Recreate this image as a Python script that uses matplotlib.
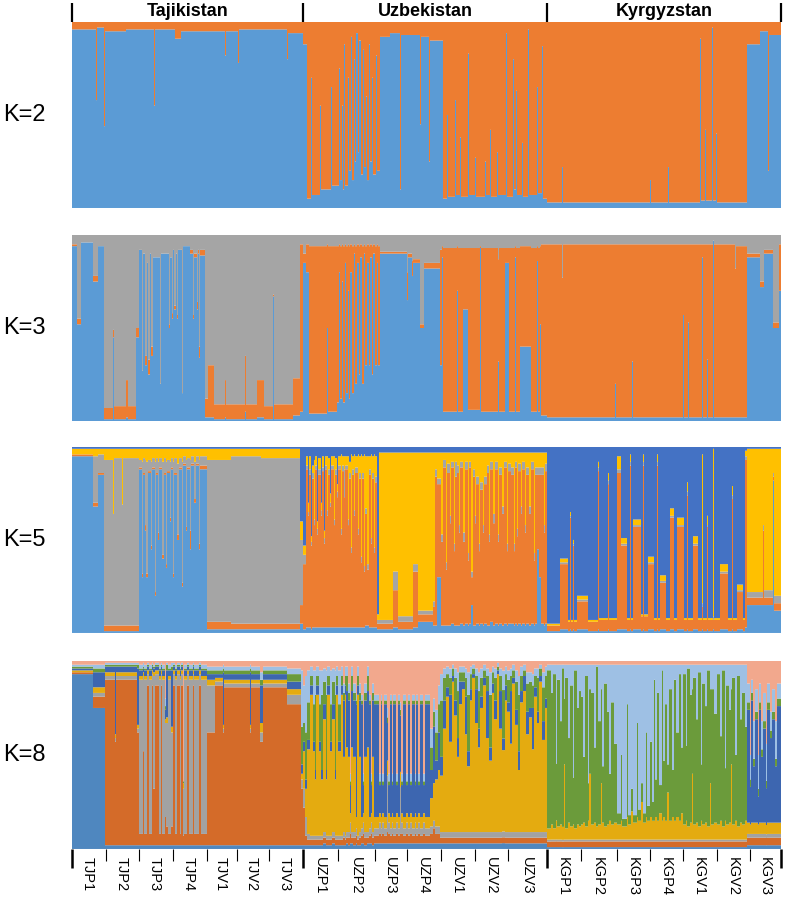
import numpy as np
import matplotlib.pyplot as plt
import matplotlib.transforms as mtransforms

plt.rcParams['font.family'] = ['Liberation Sans', 'DejaVu Sans']

countries = ["Tajikistan", "Uzbekistan", "Kyrgyzstan"]
country_sizes = [231, 244, 234]
pops = ["TJP1", "TJP2", "TJP3", "TJP4", "TJV1", "TJV2", "TJV3",
        "UZP1", "UZP2", "UZP3", "UZP4", "UZV1", "UZV2", "UZV3",
        "KGP1", "KGP2", "KGP3", "KGP4", "KGV1", "KGV2", "KGV3"]
pop_sizes = [34, 33, 34, 34, 30, 32, 34,
             35, 37, 32, 34, 34, 33, 39,
             34, 36, 33, 33, 34, 33, 31]

# ancestry rows: (number of individuals, q for each cluster, bottom -> top)
k2_colors = ["#5B9BD5", "#ED7D31"]
k2_rows = [
    # Tajikistan
    (24, .96, .04), (1, .58, .42), (7, .97, .03), (1, .44, .56), (21, .95, .05),
    (28, .96, .04), (1, .55, .45), (20, .96, .04), (6, .91, .09), (44, .95, .05),
    (1, .82, .18), (12, .95, .05), (1, .78, .22), (48, .96, .04), (1, .80, .20),
    (15, .94, .06),
    # Uzbekistan
    (4, .88, .12), (4, .05, .95), (1, .70, .30), (8, .07, .93), (1, .55, .45),
    (10, .10, .90), (1, .65, .35), (5, .12, .88),
    (2, .12, .88), (1, .75, .25), (2, .15, .85), (1, .55, .45), (1, .10, .90),
    (1, .88, .12), (3, .12, .88), (1, .70, .30), (2, .20, .80), (1, .92, .08),
    (2, .15, .85), (1, .80, .20), (1, .25, .75), (2, .94, .06), (1, .30, .70),
    (2, .90, .10), (2, .18, .82), (1, .85, .15), (2, .22, .78), (1, .60, .40),
    (2, .15, .85), (1, .88, .12), (2, .25, .75), (1, .70, .30), (3, .18, .82),
    (1, .82, .18), (3, .20, .80),
    (10, .92, .08), (10, .94, .06), (1, .10, .90), (19, .93, .07), (1, .45, .55),
    (8, .92, .08), (1, .25, .75), (13, .90, .10),
    (4, .05, .95), (1, .50, .50), (7, .06, .94), (1, .58, .42), (4, .07, .93),
    (1, .38, .62), (7, .06, .94), (1, .83, .17), (6, .07, .93), (1, .27, .73),
    (9, .06, .94), (1, .25, .75), (4, .07, .93), (1, .42, .58), (6, .06, .94),
    (1, .30, .70), (8, .07, .93), (1, .94, .06), (6, .06, .94), (1, .80, .20),
    (2, .10, .90), (1, .63, .37), (5, .07, .93), (1, .35, .65), (5, .06, .94),
    (1, .96, .04), (8, .07, .93), (1, .65, .35), (4, .08, .92), (1, .87, .13),
    (4, .05, .95),
    # Kyrgyzstan
    (15, .03, .97), (1, .22, .78), (87, .03, .97), (1, .15, .85), (17, .03, .97),
    (1, .22, .78), (31, .03, .97), (1, .91, .09), (4, .04, .96), (1, .42, .58),
    (6, .04, .96), (1, .97, .03), (3, .04, .96), (1, .40, .60), (30, .03, .97),
    (13, .88, .12), (8, .95, .05), (1, .20, .80), (12, .93, .07),
]

k3_colors = ["#5B9BD5", "#ED7D31", "#A5A5A5"]
k3_rows = [
    # Tajikistan
    (5, .94, .01, .05), (4, .52, .03, .45), (12, .96, .00, .04), (5, .75, .03, .22),
    (6, .94, .00, .06),
    (9, .01, .06, .93), (1, .45, .04, .51), (12, .01, .07, .92), (2, .02, .20, .78),
    (8, .01, .07, .92), (3, .45, .05, .50),
    (3, .92, .00, .08), (1, .27, .00, .73), (2, .90, .00, .10),
    (2, .30, .05, .65), (1, .85, .00, .15), (2, .25, .08, .67), (1, .90, .00, .10),
    (2, .35, .05, .60),
    (7, .88, .00, .12), (1, .20, .00, .80), (6, .90, .00, .10),
    (2, .90, .00, .10), (1, .50, .02, .48), (2, .88, .00, .12), (1, .55, .03, .42),
    (1, .92, .00, .08), (2, .60, .02, .38), (1, .90, .00, .10), (1, .55, .02, .43),
    (4, .92, .00, .08), (1, .15, .00, .85), (7, .94, .00, .06),
    (3, .90, .02, .08), (1, .55, .02, .43), (3, .88, .02, .10), (1, .60, .04, .36),
    (1, .90, .02, .08),
    (1, .34, .06, .60), (5, .89, .03, .08),
    (3, .02, .10, .88), (6, .02, .28, .70), (11, .01, .08, .91), (1, .02, .20, .78),
    (19, .01, .08, .91), (1, .05, .30, .65), (11, .01, .08, .91), (7, .02, .20, .78),
    (9, .01, .07, .92), (1, .67, .01, .32), (19, .01, .08, .91), (7, .03, .20, .77),
    (3, .05, .90, .05),
    # Uzbekistan
    (3, .85, .05, .10), (3, .80, .15, .05), (18, .04, .90, .06), (1, .50, .45, .05),
    (9, .05, .89, .06),
    (2, .10, .84, .06), (1, .80, .15, .05), (2, .12, .82, .06), (1, .75, .20, .05),
    (2, .10, .84, .06), (1, .85, .10, .05), (2, .15, .79, .06), (1, .70, .25, .05),
    (1, .12, .82, .06), (2, .80, .15, .05), (2, .15, .79, .06), (1, .90, .05, .05),
    (2, .20, .74, .06), (2, .85, .10, .05), (1, .25, .69, .06), (2, .88, .07, .05),
    (2, .20, .74, .06), (1, .90, .05, .05), (2, .30, .64, .06), (2, .85, .10, .05),
    (1, .30, .64, .06), (2, .88, .07, .05), (1, .25, .69, .06), (2, .90, .05, .05),
    (2, .30, .64, .06), (1, .85, .10, .05), (2, .30, .64, .06),
    (27, .90, .01, .09), (1, .65, .15, .20), (4, .88, .02, .10),
    (1, .78, .08, .14), (7, .85, .02, .13), (4, .50, .02, .48), (16, .82, .03, .15),
    (2, .30, .62, .08), (1, .88, .06, .06), (14, .05, .88, .07), (1, .70, .24, .06),
    (5, .05, .88, .07), (5, .60, .33, .07), (12, .06, .87, .07), (1, .93, .01, .06),
    (17, .05, .88, .07), (1, .32, .55, .13), (6, .05, .88, .07), (4, .85, .08, .07),
    (6, .05, .88, .07), (1, .88, .06, .06), (4, .05, .88, .07), (11, .40, .54, .06),
    (6, .05, .88, .07), (1, .86, .08, .06), (2, .05, .88, .07), (1, .52, .42, .06),
    (6, .03, .92, .05),
    # Kyrgyzstan
    (15, .02, .93, .05), (1, .02, .75, .23), (52, .02, .93, .05), (1, .20, .75, .05),
    (16, .02, .93, .05), (1, .32, .63, .05), (50, .02, .93, .05), (1, .57, .38, .05),
    (4, .02, .93, .05), (1, .53, .42, .05), (13, .02, .93, .05), (1, .88, .07, .05),
    (4, .02, .93, .05), (1, .33, .62, .05), (5, .02, .93, .05), (1, .97, .00, .03),
    (21, .02, .93, .05), (1, .02, .80, .18), (11, .02, .92, .06), (13, .88, .02, .10),
    (4, .72, .03, .25), (9, .90, .02, .08), (6, .50, .03, .47), (2, .70, .25, .05),
]

k5_colors = ["#5B9BD5", "#ED7D31", "#A5A5A5", "#FFC000", "#4472C4"]
k5_rows = [
    # Tajikistan
    (21, .95, .01, .00, .03, .01), (5, .68, .02, .25, .04, .01), (6, .85, .01, .10, .03, .01),
    (9, .01, .03, .89, .06, .01), (1, .01, .03, .60, .35, .01), (8, .01, .03, .90, .05, .01),
    (1, .01, .03, .65, .30, .01), (16, .01, .03, .90, .05, .01),
    (3, .88, .01, .04, .06, .01), (1, .30, .02, .60, .07, .01), (2, .85, .01, .08, .05, .01),
    (1, .55, .03, .35, .06, .01), (2, .30, .02, .60, .07, .01), (3, .86, .01, .06, .06, .01),
    (1, .45, .02, .45, .07, .01), (3, .88, .01, .05, .05, .01), (1, .20, .02, .70, .07, .01),
    (2, .85, .01, .08, .05, .01), (1, .50, .04, .38, .07, .01), (3, .88, .01, .05, .05, .01),
    (2, .40, .02, .50, .07, .01), (2, .85, .01, .08, .05, .01), (1, .35, .02, .55, .07, .01),
    (3, .86, .01, .06, .06, .01), (1, .60, .02, .30, .07, .01), (2, .88, .01, .05, .05, .01),
    (1, .30, .02, .60, .07, .01), (3, .85, .01, .08, .05, .01), (2, .50, .03, .38, .08, .01),
    (3, .88, .01, .05, .05, .01), (1, .25, .02, .65, .07, .01), (3, .90, .01, .04, .04, .01),
    (1, .55, .02, .36, .06, .01), (3, .88, .01, .05, .05, .01), (1, .45, .10, .38, .06, .01),
    (3, .90, .01, .04, .04, .01), (2, .70, .02, .20, .07, .01), (3, .90, .01, .04, .04, .01),
    (1, .45, .03, .45, .06, .01), (3, .88, .02, .05, .04, .01), (4, .88, .02, .05, .04, .01),
    (24, .02, .04, .87, .06, .01), (30, .02, .03, .90, .04, .01), (39, .02, .03, .89, .05, .01),
    (3, .05, .10, .35, .10, .40),
    # Uzbekistan
    (3, .02, .35, .05, .05, .53), (2, .03, .85, .02, .05, .05), (1, .03, .60, .02, .05, .30),
    (2, .03, .82, .03, .07, .05), (1, .02, .45, .02, .03, .48), (2, .03, .80, .03, .04, .10),
    (1, .03, .55, .03, .32, .07), (2, .03, .85, .02, .05, .05), (1, .03, .50, .03, .04, .40),
    (3, .03, .82, .03, .06, .06), (1, .03, .60, .03, .04, .30), (2, .03, .84, .02, .06, .05),
    (1, .03, .45, .03, .04, .45), (2, .03, .85, .02, .05, .05), (1, .03, .60, .03, .29, .05),
    (2, .03, .82, .03, .06, .06), (1, .03, .65, .02, .05, .25), (3, .03, .85, .02, .05, .05),
    (1, .03, .55, .03, .34, .05), (2, .03, .82, .03, .06, .06), (1, .03, .70, .03, .04, .20),
    (3, .03, .85, .02, .05, .05), (1, .03, .50, .03, .40, .04), (2, .03, .84, .03, .05, .05),
    (1, .03, .70, .15, .07, .05), (3, .03, .85, .02, .05, .05), (1, .03, .55, .03, .34, .05),
    (2, .03, .80, .03, .06, .08), (1, .03, .40, .03, .50, .04), (2, .03, .82, .03, .07, .05),
    (1, .03, .60, .03, .30, .04), (3, .03, .83, .03, .06, .05), (1, .03, .50, .03, .40, .04),
    (2, .03, .80, .03, .09, .05), (1, .03, .35, .03, .55, .04), (2, .03, .80, .03, .09, .05),
    (1, .03, .30, .03, .60, .04), (2, .04, .60, .03, .28, .05), (2, .04, .30, .03, .58, .05),
    (2, .03, .82, .03, .07, .05), (1, .03, .45, .03, .45, .04), (2, .03, .80, .03, .09, .05),
    (1, .03, .40, .03, .50, .04), (2, .03, .78, .03, .11, .05), (2, .02, .03, .02, .03, .90),
    (14, .02, .03, .02, .90, .03), (5, .03, .20, .10, .64, .03), (15, .02, .04, .03, .88, .03),
    (5, .03, .30, .04, .60, .03), (15, .06, .04, .02, .85, .03),
    (2, .04, .10, .03, .80, .03), (2, .04, .80, .04, .09, .03), (4, .30, .50, .03, .14, .03),
    (2, .04, .45, .04, .44, .03), (3, .04, .85, .04, .04, .03), (1, .04, .30, .04, .59, .03),
    (3, .04, .82, .05, .06, .03), (1, .04, .55, .04, .34, .03), (3, .05, .84, .03, .05, .03),
    (1, .04, .40, .04, .49, .03), (2, .04, .80, .08, .05, .03), (2, .04, .82, .04, .07, .03),
    (1, .04, .50, .04, .39, .03), (3, .05, .84, .03, .05, .03), (2, .04, .45, .05, .43, .03),
    (3, .05, .83, .04, .05, .03), (1, .04, .35, .04, .54, .03), (2, .05, .84, .03, .05, .03),
    (2, .15, .15, .03, .64, .03), (2, .04, .80, .04, .09, .03), (1, .04, .55, .04, .34, .03),
    (3, .05, .75, .04, .13, .03), (1, .04, .40, .04, .49, .03), (3, .05, .72, .04, .16, .03),
    (1, .04, .50, .04, .39, .03), (3, .05, .75, .04, .13, .03), (2, .04, .82, .04, .07, .03),
    (1, .04, .45, .04, .44, .03), (3, .06, .82, .04, .05, .03), (2, .04, .55, .05, .33, .03),
    (3, .05, .83, .04, .05, .03), (1, .04, .45, .04, .44, .03), (3, .05, .80, .04, .08, .03),
    (2, .04, .60, .04, .29, .03), (3, .05, .84, .03, .05, .03), (1, .04, .40, .04, .49, .03),
    (3, .05, .82, .04, .06, .03),
    (3, .05, .80, .04, .08, .03), (1, .04, .40, .04, .49, .03), (2, .05, .84, .03, .05, .03),
    (1, .04, .48, .04, .41, .03), (3, .05, .82, .04, .06, .03), (1, .04, .60, .04, .29, .03),
    (3, .05, .83, .04, .05, .03), (1, .04, .50, .04, .39, .03), (3, .05, .80, .04, .08, .03),
    (2, .04, .60, .04, .29, .03), (3, .05, .83, .04, .05, .03), (1, .04, .35, .04, .54, .03),
    (2, .05, .80, .04, .08, .03), (2, .45, .40, .04, .08, .03), (2, .30, .55, .04, .08, .03),
    (3, .05, .80, .04, .08, .03), (1, .04, .50, .04, .39, .03), (2, .05, .82, .04, .06, .03),
    # Kyrgyzstan
    (13, .01, .03, .00, .01, .95), (8, .02, .35, .01, .02, .60), (2, .01, .05, .00, .01, .93),
    (1, .02, .60, .01, .02, .35), (2, .01, .05, .00, .01, .93), (1, .02, .45, .01, .02, .50),
    (3, .01, .05, .00, .01, .93), (11, .02, .15, .01, .02, .80), (10, .01, .05, .00, .01, .93),
    (1, .02, .85, .02, .03, .08), (9, .01, .06, .00, .01, .92), (1, .02, .78, .02, .04, .14),
    (8, .01, .06, .00, .01, .92), (4, .02, .84, .02, .07, .05), (6, .02, .45, .01, .03, .49),
    (3, .01, .06, .00, .01, .92), (1, .02, .88, .02, .04, .04), (2, .01, .06, .00, .01, .92),
    (8, .02, .55, .01, .03, .39), (2, .01, .08, .00, .01, .90), (1, .02, .88, .02, .04, .04),
    (4, .01, .08, .00, .01, .90), (6, .02, .35, .01, .03, .59), (3, .01, .06, .00, .01, .92),
    (1, .02, .88, .02, .04, .04), (2, .01, .06, .00, .01, .92), (6, .02, .25, .01, .03, .69),
    (4, .01, .06, .00, .01, .92), (4, .02, .60, .01, .04, .33), (3, .01, .06, .00, .01, .92),
    (7, .02, .55, .01, .04, .38), (3, .01, .06, .00, .01, .92), (1, .02, .72, .02, .05, .19),
    (5, .01, .06, .00, .01, .92), (5, .02, .45, .01, .04, .48), (4, .01, .06, .00, .01, .92),
    (1, .02, .12, .02, .80, .04), (4, .01, .06, .00, .01, .92), (1, .02, .55, .01, .05, .37),
    (5, .01, .06, .00, .01, .92), (1, .02, .05, .02, .90, .01), (6, .01, .06, .00, .01, .92),
    (8, .02, .30, .01, .04, .63), (4, .01, .06, .00, .01, .92), (1, .02, .70, .02, .05, .21),
    (4, .01, .06, .00, .01, .92), (6, .02, .20, .01, .03, .74), (2, .01, .06, .00, .01, .92),
    (2, .03, .90, .02, .03, .02), (16, .15, .04, .03, .77, .01), (1, .15, .40, .03, .41, .01),
    (9, .15, .04, .04, .76, .01), (1, .82, .02, .02, .13, .01), (7, .12, .04, .04, .79, .01),
]

k8_colors = ["#4F87BF", "#D46B29", "#A2A2A2", "#E4AB10",
             "#3D66B0", "#6B9B3B", "#9EC0E4", "#F2A88D"]
# recurring K=8 profiles seen as thin stripes
tj_gray = (.02, .06, .82, .02, .03, .01, .02, .02)
tj_orange = (.02, .85, .06, .02, .02, .01, .01, .01)
uz_gold_green = (.02, .03, .02, .45, .05, .20, .18, .05)
uz_gold_high = (.02, .03, .02, .75, .05, .05, .05, .03)
uz_green = (.02, .03, .02, .30, .05, .40, .13, .05)
uz_gold_dblue = (.02, .04, .03, .40, .30, .04, .05, .12)
uz_dblue = (.03, .04, .04, .06, .60, .02, .03, .18)
uz_salmon = (.03, .05, .06, .05, .15, .02, .04, .60)
uz_gold_mid = (.03, .03, .03, .60, .08, .12, .07, .04)
uz_gold_stripe = (.03, .03, .03, .45, .30, .08, .05, .03)

k8_rows = [
    # Tajikistan
    (21, .93, .01, .00, .01, .01, .01, .01, .02), (12, .75, .06, .02, .03, .08, .02, .02, .02),
    (10, .02, .88, .02, .02, .03, .01, .01, .01), (1, .02, .55, .02, .02, .36, .01, .01, .01),
    (21, .02, .88, .02, .02, .03, .01, .01, .01), (2, .02, .60, .02, .02, .30, .02, .01, .01),
    (4, *tj_gray), (1, .02, .50, .40, .02, .02, .01, .02, .01), (3, *tj_gray), (2, *tj_orange),
    (3, *tj_gray), (1, *tj_orange), (2, .02, .30, .60, .02, .02, .01, .01, .02), (4, *tj_orange),
    (2, *tj_gray), (1, *tj_orange), (3, *tj_gray), (1, .02, .15, .50, .02, .05, .02, .04, .20),
    (2, .02, .10, .55, .03, .25, .03, .01, .01), (3, *tj_gray),
    (2, .02, .10, .50, .03, .30, .02, .02, .01), (2, *tj_orange), (2, *tj_gray),
    (3, *tj_orange), (1, *tj_gray), (2, *tj_orange), (1, .02, .05, .25, .03, .00, .01, .00, .64),
    (3, *tj_gray), (2, *tj_orange), (4, *tj_gray), (1, *tj_orange), (5, *tj_gray),
    (2, *tj_orange), (6, *tj_gray),
    (8, .02, .60, .25, .03, .03, .02, .02, .03), (8, .02, .85, .02, .02, .02, .02, .02, .03),
    (1, .02, .60, .02, .02, .28, .02, .02, .02), (26, .02, .84, .02, .02, .03, .02, .02, .03),
    (1, .02, .60, .02, .02, .28, .02, .02, .02), (9, .02, .84, .02, .02, .03, .02, .02, .03),
    (3, .02, .55, .05, .05, .20, .03, .04, .06), (24, .02, .84, .02, .02, .03, .02, .02, .03),
    (14, .02, .75, .05, .03, .04, .04, .03, .04), (2, .02, .30, .05, .03, .05, .20, .30, .05),
    # Uzbekistan
    (2, .02, .20, .10, .20, .05, .10, .20, .13), (2, .02, .05, .10, .15, .05, .25, .30, .08),
    (3, .02, .03, .03, .45, .05, .20, .17, .05),
    (3, *uz_gold_high), (2, *uz_gold_green), (1, *uz_green), (3, *uz_gold_high),
    (2, *uz_gold_green), (2, *uz_green), (3, *uz_gold_mid), (1, *uz_green),
    (3, *uz_gold_high), (2, *uz_gold_green), (3, *uz_gold_mid), (1, *uz_green),
    (2, *uz_gold_high), (3, *uz_gold_green), (2, *uz_gold_high),
    (2, *uz_gold_dblue), (1, *uz_gold_high), (2, *uz_gold_stripe), (2, *uz_gold_dblue),
    (1, *uz_salmon), (2, *uz_gold_stripe), (3, *uz_gold_dblue), (1, *uz_dblue),
    (2, *uz_gold_high), (2, *uz_gold_dblue), (2, *uz_dblue), (1, *uz_salmon),
    (3, *uz_gold_dblue), (2, *uz_gold_stripe), (2, *uz_dblue), (1, *uz_salmon),
    (2, *uz_gold_dblue), (3, *uz_dblue),
    (2, *uz_dblue), (2, *uz_salmon), (1, *uz_dblue), (2, *uz_salmon), (3, *uz_dblue),
    (1, .03, .06, .30, .08, .20, .03, .05, .25), (2, *uz_salmon), (2, *uz_dblue),
    (1, *uz_salmon), (3, *uz_dblue), (2, *uz_salmon), (2, *uz_dblue),
    (1, .03, .05, .25, .08, .30, .03, .04, .22), (2, *uz_salmon), (3, *uz_dblue),
    (2, *uz_salmon), (2, *uz_dblue), (2, *uz_salmon), (3, *uz_dblue), (1, *uz_salmon),
    (2, *uz_dblue), (2, *uz_salmon), (3, *uz_dblue), (2, *uz_salmon), (5, *uz_dblue),
    (3, .03, .05, .04, .15, .15, .12, .10, .36), (2, .03, .08, .04, .20, .30, .08, .07, .20),
    (3, .03, .05, .04, .25, .10, .15, .12, .26), (2, .03, .05, .04, .30, .20, .15, .10, .13),
    (3, .03, .03, .03, .30, .10, .30, .14, .07), (3, .03, .03, .03, .55, .15, .12, .05, .04),
    (3, .03, .03, .03, .72, .05, .07, .04, .03), (3, .03, .03, .03, .48, .25, .09, .05, .04),
    (2, .03, .03, .03, .80, .03, .04, .02, .02), (3, .03, .03, .03, .62, .08, .12, .05, .04),
    (2, .03, .03, .03, .40, .10, .25, .10, .06), (3, .03, .03, .03, .68, .12, .05, .03, .03),
    (3, .03, .03, .03, .76, .04, .05, .03, .03), (2, .03, .03, .03, .52, .20, .10, .05, .04),
    (3, .03, .03, .03, .35, .08, .30, .12, .06), (2, .03, .03, .03, .70, .06, .08, .04, .03),
    (3, .03, .03, .03, .82, .02, .03, .02, .02), (3, .03, .03, .03, .58, .18, .07, .04, .04),
    (2, .03, .03, .03, .45, .10, .20, .10, .06), (3, .03, .03, .03, .66, .06, .10, .05, .04),
    (3, .03, .03, .03, .78, .04, .04, .03, .02), (3, .03, .03, .03, .50, .25, .08, .04, .04),
    (3, .03, .03, .03, .38, .07, .28, .12, .06), (2, .03, .03, .03, .74, .05, .06, .03, .03),
    (3, .03, .03, .03, .60, .10, .12, .05, .04), (2, .03, .03, .03, .84, .02, .02, .02, .01),
    (3, .03, .03, .03, .55, .20, .08, .04, .04), (3, .03, .03, .03, .42, .06, .25, .10, .05),
    (2, .03, .03, .03, .70, .08, .06, .04, .03), (3, .03, .03, .03, .64, .05, .12, .05, .05),
    (2, .03, .03, .03, .47, .28, .08, .04, .04), (3, .03, .03, .03, .79, .03, .04, .03, .02),
    (3, .03, .03, .03, .57, .08, .15, .06, .05), (2, .03, .03, .03, .33, .10, .30, .10, .08),
    (3, .03, .03, .03, .69, .06, .08, .05, .03), (3, .03, .03, .03, .75, .08, .03, .03, .02),
    (3, .03, .03, .03, .52, .12, .15, .06, .06), (3, .03, .03, .03, .61, .05, .14, .05, .06),
    (2, .03, .03, .03, .44, .22, .12, .06, .07), (3, .03, .03, .03, .72, .05, .06, .04, .04),
    (2, .03, .03, .03, .58, .06, .18, .05, .04), (3, .03, .03, .03, .80, .03, .04, .02, .02),
    (3, .03, .03, .03, .49, .10, .18, .08, .06), (2, .03, .03, .03, .66, .05, .12, .05, .03),
    # Kyrgyzstan
    (4, .01, .03, .01, .06, .00, .85, .03, .02), (2, .01, .03, .01, .08, .00, .70, .15, .02),
    (3, .01, .03, .01, .06, .00, .82, .05, .02), (1, .01, .03, .01, .10, .00, .30, .52, .02),
    (3, .01, .03, .01, .07, .00, .78, .08, .02), (2, .01, .03, .01, .08, .00, .55, .30, .02),
    (2, .01, .03, .01, .07, .00, .86, .02, .02), (1, .01, .03, .01, .40, .00, .35, .18, .02),
    (3, .01, .03, .01, .06, .00, .80, .07, .02), (2, .01, .03, .01, .09, .00, .45, .39, .02),
    (3, .01, .03, .01, .07, .00, .75, .11, .02), (1, .01, .03, .01, .08, .00, .25, .60, .02),
    (3, .01, .03, .01, .06, .00, .84, .03, .02), (2, .01, .03, .01, .08, .00, .62, .23, .02),
    (2, .01, .03, .01, .07, .00, .72, .14, .02),
    (2, .01, .03, .01, .08, .00, .68, .17, .02), (2, .01, .03, .01, .09, .00, .35, .49, .02),
    (3, .01, .03, .01, .07, .00, .80, .06, .02), (1, .01, .03, .01, .10, .00, .20, .63, .02),
    (2, .01, .03, .01, .35, .00, .45, .13, .02), (3, .01, .03, .01, .08, .00, .70, .15, .02),
    (2, .01, .03, .01, .09, .00, .40, .44, .02), (2, .01, .03, .01, .07, .00, .85, .01, .02),
    (3, .01, .03, .01, .08, .00, .55, .30, .02), (1, .01, .03, .01, .30, .00, .50, .13, .02),
    (2, .01, .03, .01, .09, .00, .30, .54, .02), (3, .01, .03, .01, .07, .00, .76, .10, .02),
    (2, .01, .03, .01, .08, .00, .60, .25, .02), (2, .01, .03, .01, .10, .00, .25, .58, .02),
    (3, .01, .03, .01, .08, .00, .65, .20, .02), (3, .01, .03, .01, .09, .00, .42, .42, .02),
    (4, .01, .03, .01, .08, .00, .06, .79, .02), (1, .01, .03, .01, .10, .00, .35, .48, .02),
    (5, .01, .03, .01, .07, .00, .04, .82, .02), (1, .01, .03, .01, .12, .00, .60, .21, .02),
    (3, .01, .03, .01, .08, .00, .05, .80, .02), (2, .01, .03, .01, .15, .00, .12, .66, .02),
    (4, .01, .03, .01, .09, .00, .04, .80, .02), (1, .01, .03, .01, .12, .00, .50, .31, .02),
    (3, .01, .03, .01, .10, .00, .06, .77, .02), (2, .01, .03, .01, .20, .00, .10, .63, .02),
    (3, .01, .03, .01, .09, .00, .05, .79, .02), (1, .01, .03, .01, .12, .00, .45, .36, .02),
    (3, .01, .03, .01, .10, .00, .08, .75, .02),
    (2, .01, .03, .01, .12, .00, .40, .41, .02), (2, .01, .03, .01, .10, .00, .10, .73, .02),
    (1, .01, .03, .01, .10, .00, .75, .08, .02), (2, .01, .03, .01, .12, .00, .20, .61, .02),
    (2, .01, .03, .01, .10, .00, .68, .15, .02), (3, .01, .03, .01, .14, .00, .15, .64, .02),
    (1, .01, .03, .01, .10, .00, .80, .03, .02), (2, .01, .03, .01, .12, .00, .30, .51, .02),
    (2, .01, .03, .01, .10, .00, .62, .21, .02), (2, .01, .03, .01, .25, .00, .15, .53, .02),
    (3, .01, .03, .01, .10, .00, .70, .13, .02), (2, .01, .03, .01, .12, .00, .25, .56, .02),
    (2, .01, .03, .01, .10, .00, .75, .08, .02), (3, .01, .03, .01, .12, .00, .45, .36, .02),
    (2, .01, .03, .01, .10, .00, .78, .05, .02), (2, .01, .03, .01, .14, .00, .35, .44, .02),
    (3, .01, .03, .01, .08, .00, .80, .05, .02), (1, .01, .03, .01, .10, .00, .40, .43, .02),
    (3, .01, .03, .01, .07, .00, .84, .02, .02), (2, .01, .03, .01, .09, .00, .68, .16, .02),
    (1, .01, .03, .01, .35, .00, .45, .13, .02), (3, .01, .03, .01, .08, .00, .78, .07, .02),
    (2, .01, .03, .01, .09, .00, .55, .29, .02), (3, .01, .03, .01, .07, .00, .82, .04, .02),
    (1, .01, .03, .01, .10, .00, .30, .53, .02), (3, .01, .03, .01, .08, .00, .75, .10, .02),
    (2, .01, .03, .01, .09, .00, .62, .22, .02), (3, .01, .03, .01, .07, .00, .83, .03, .02),
    (1, .01, .03, .01, .30, .00, .50, .13, .02), (3, .01, .03, .01, .08, .00, .72, .13, .02),
    (3, .01, .03, .01, .09, .00, .58, .26, .02),
    (3, .01, .03, .01, .08, .00, .80, .05, .02), (2, .01, .03, .01, .10, .00, .45, .38, .02),
    (3, .01, .03, .01, .07, .00, .83, .03, .02), (1, .01, .03, .01, .10, .00, .28, .55, .02),
    (3, .01, .03, .01, .08, .00, .74, .11, .02), (2, .01, .03, .01, .09, .00, .60, .24, .02),
    (1, .01, .03, .01, .40, .00, .40, .13, .02), (3, .01, .03, .01, .08, .00, .78, .07, .02),
    (2, .01, .03, .01, .10, .00, .35, .48, .02), (3, .01, .03, .01, .07, .00, .80, .06, .02),
    (2, .01, .03, .01, .09, .00, .55, .29, .02), (3, .01, .03, .01, .08, .00, .70, .15, .02),
    (2, .01, .03, .01, .10, .00, .50, .33, .02),
    (3, .02, .04, .02, .06, .60, .04, .10, .12), (1, .02, .04, .02, .05, .20, .04, .13, .50),
    (2, .02, .04, .02, .06, .65, .04, .07, .10), (2, .02, .04, .02, .06, .30, .04, .20, .32),
    (3, .02, .04, .02, .06, .55, .04, .12, .15), (1, .02, .04, .02, .05, .15, .04, .18, .50),
    (2, .02, .04, .02, .06, .60, .04, .10, .12), (2, .02, .04, .02, .06, .35, .04, .15, .32),
    (3, .02, .04, .02, .06, .50, .04, .15, .17), (1, .02, .04, .02, .05, .20, .04, .20, .45),
    (3, .02, .04, .02, .06, .60, .04, .10, .12), (2, .02, .04, .02, .06, .45, .04, .10, .27),
    (3, .02, .04, .02, .06, .55, .04, .12, .15), (2, .02, .04, .02, .06, .30, .04, .20, .32),
    (4, .02, .04, .02, .06, .62, .04, .08, .12),
]


def expand(rows):
    counts = [r[0] for r in rows]
    q = np.repeat(np.array([r[1:] for r in rows], dtype=float), counts, axis=0)
    return q / q.sum(axis=1, keepdims=True)


fig = plt.figure(figsize=(7.87, 9), dpi=100)

panels = [
    ("K=2", k2_rows, k2_colors, 0.7689, 0.2067),
    ("K=3", k3_rows, k3_colors, 0.5322, 0.2067),
    ("K=5", k5_rows, k5_colors, 0.2967, 0.2067),
    ("K=8", k8_rows, k8_colors, 0.0567, 0.2089),
]

n_total = sum(pop_sizes)
country_edges = np.concatenate([[0], np.cumsum(country_sizes)])
pop_edges = np.concatenate([[0], np.cumsum(pop_sizes)])

axes = []
for label, rows, colors, bottom, height in panels:
    ax = fig.add_axes([72 / 787, bottom, n_total / 787, height])
    q = expand(rows)
    edges = np.arange(len(q) + 1)
    cum = np.zeros(len(q))
    for j, c in enumerate(colors):
        top = cum + q[:, j]
        ax.stairs(top, edges, baseline=cum, fill=True, color=c, lw=0)
        cum = top
    ax.set_xlim(0, n_total)
    ax.set_ylim(0, 1)
    for s in ax.spines.values():
        s.set_visible(False)
    ax.set_xticks([])
    ax.set_yticks([])
    fig.text(3 / 787, bottom + height / 2, label, fontsize=17,
             ha="left", va="center")
    axes.append(ax)

# country header on top panel
top_ax = axes[0]
top_ax.set_xticks(country_edges)
top_ax.xaxis.tick_top()
top_ax.tick_params(axis="x", length=14, width=1.6, color="black",
                   labeltop=False, labelbottom=False)
trans = mtransforms.blended_transform_factory(top_ax.transData, top_ax.transAxes)
for name, a, b in zip(countries, country_edges[:-1], country_edges[1:]):
    top_ax.text((a + b) / 2, 1.058, name, transform=trans, ha="center",
                va="center", fontsize=13, fontweight="bold")

# population ticks and labels under bottom panel
bot_ax = axes[-1]
bot_ax.set_xticks(country_edges)
bot_ax.set_xticks([e for e in pop_edges if e not in country_edges], minor=True)
bot_ax.tick_params(axis="x", which="major", length=14, width=1.8,
                   labelbottom=False)
bot_ax.tick_params(axis="x", which="minor", length=8.5, width=0.8)
trans = mtransforms.blended_transform_factory(bot_ax.transData, bot_ax.transAxes)
for name, a, b in zip(pops, pop_edges[:-1], pop_edges[1:]):
    bot_ax.text((a + b) / 2 - 1, -0.042, name, transform=trans, rotation=-90,
                ha="center", va="top", fontsize=10.5)

fig.savefig("out.png", dpi=100)
